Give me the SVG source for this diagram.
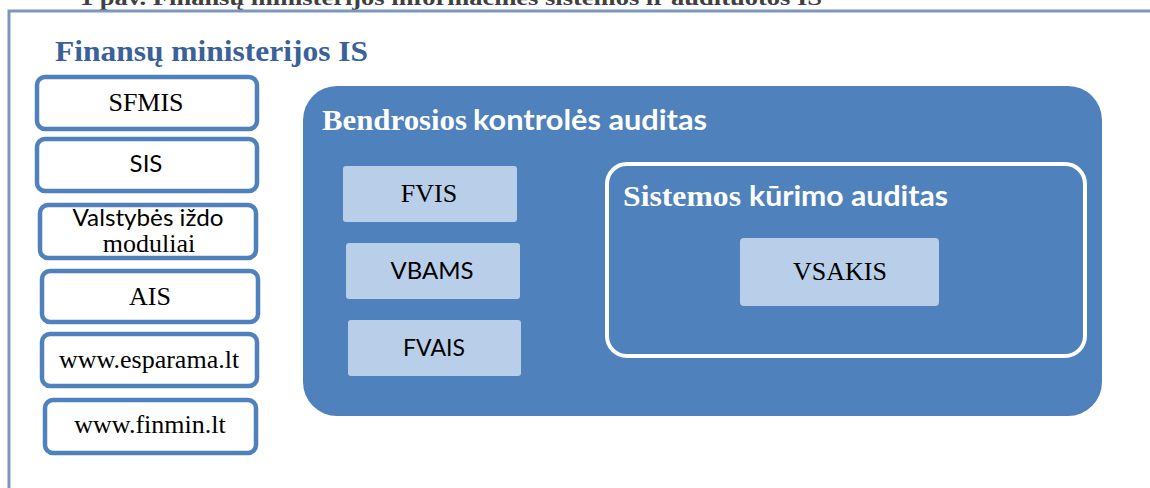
<svg xmlns="http://www.w3.org/2000/svg" width="1150" height="488" viewBox="0 0 1150 488">
<style>
.frame{fill:none;stroke:#7b97bb;stroke-width:3}
.lbox{fill:#ffffff;stroke:#4f81bd;stroke-width:4.5}
.ibox{fill:#b9cfe9}
.serif{font-family:"Liberation Serif","Times New Roman",serif;font-size:26px;fill:#000}
.sans{font-family:Lato,"Open Sans","Liberation Sans",sans-serif;font-size:24px;fill:#000}
.ttl{font-family:"Liberation Serif","Times New Roman",serif;font-weight:bold;font-size:30px}
.ttls{font-family:Lato,"Open Sans","Liberation Sans",sans-serif;font-weight:bold;font-size:29px}
.w{fill:#ffffff}
</style>
<rect width="1150" height="488" fill="#ffffff"/>
<text x="80" y="5" class="ttl" style="font-size:20px;fill:#404040" textLength="742" lengthAdjust="spacingAndGlyphs">1 pav. Finansų ministerijos informacinės sistemos ir audituotos IS</text>
<g id="frame">
<path class="frame" d="M9 488 V11 H1150"/>
<text x="55" y="61" class="ttl" fill="#3a6199" textLength="313" lengthAdjust="spacingAndGlyphs">Finansų ministerijos IS</text>
</g>
<g id="sfmis"><rect class="lbox" x="37" y="77" width="220" height="52" rx="8"/><text class="serif" x="146" y="111" text-anchor="middle">SFMIS</text></g>
<g id="sis"><rect class="lbox" x="37" y="139" width="220" height="52" rx="8"/><text class="sans" x="146" y="172" text-anchor="middle">SIS</text></g>
<g id="vim"><rect class="lbox" x="40" y="205" width="216" height="53" rx="8"/><text class="sans" x="148" y="226" text-anchor="middle" textLength="151" lengthAdjust="spacingAndGlyphs">Valstybės iždo</text><text class="serif" x="149" y="252" text-anchor="middle">moduliai</text></g>
<g id="ais"><rect class="lbox" x="42" y="271" width="216" height="51" rx="8"/><text class="serif" x="150" y="305" text-anchor="middle">AIS</text></g>
<g id="esparama"><rect class="lbox" x="42" y="334" width="215" height="52" rx="8"/><text class="serif" x="149" y="368" text-anchor="middle">www.esparama.lt</text></g>
<g id="finmin"><rect class="lbox" x="45" y="400" width="211" height="53" rx="8"/><text class="serif" x="150" y="433" text-anchor="middle">www.finmin.lt</text></g>
<g id="bka">
<rect x="303" y="86" width="799" height="330" rx="34" fill="#4f81bd"/>
<text x="322" y="130" class="ttl w" textLength="145" lengthAdjust="spacingAndGlyphs">Bendrosios</text>
<text x="473" y="130" class="ttls w" textLength="234" lengthAdjust="spacingAndGlyphs">kontrolės auditas</text>
</g>
<g id="fvis"><rect class="ibox" x="343" y="166" width="174" height="56" rx="3"/><text class="serif" x="429" y="202" text-anchor="middle">FVIS</text></g>
<g id="vbams"><rect class="ibox" x="346" y="243" width="174" height="56" rx="3"/><text class="sans" x="432" y="279" text-anchor="middle">VBAMS</text></g>
<g id="fvais"><rect class="ibox" x="348" y="320" width="173" height="56" rx="3"/><text class="sans" x="434" y="356" text-anchor="middle" style="font-size:23px">FVAIS</text></g>
<g id="ska">
<rect x="607" y="164" width="478" height="192" rx="20" fill="none" stroke="#ffffff" stroke-width="4"/>
<text x="623" y="206" class="ttl w" textLength="118" lengthAdjust="spacingAndGlyphs">Sistemos</text>
<text x="749" y="206" class="ttls w" textLength="199" lengthAdjust="spacingAndGlyphs">kūrimo auditas</text>
</g>
<g id="vsakis"><rect class="ibox" x="740" y="238" width="199" height="68" rx="4"/><text class="serif" x="840" y="280" text-anchor="middle">VSAKIS</text></g>
<g id="connectors"/>
</svg>
